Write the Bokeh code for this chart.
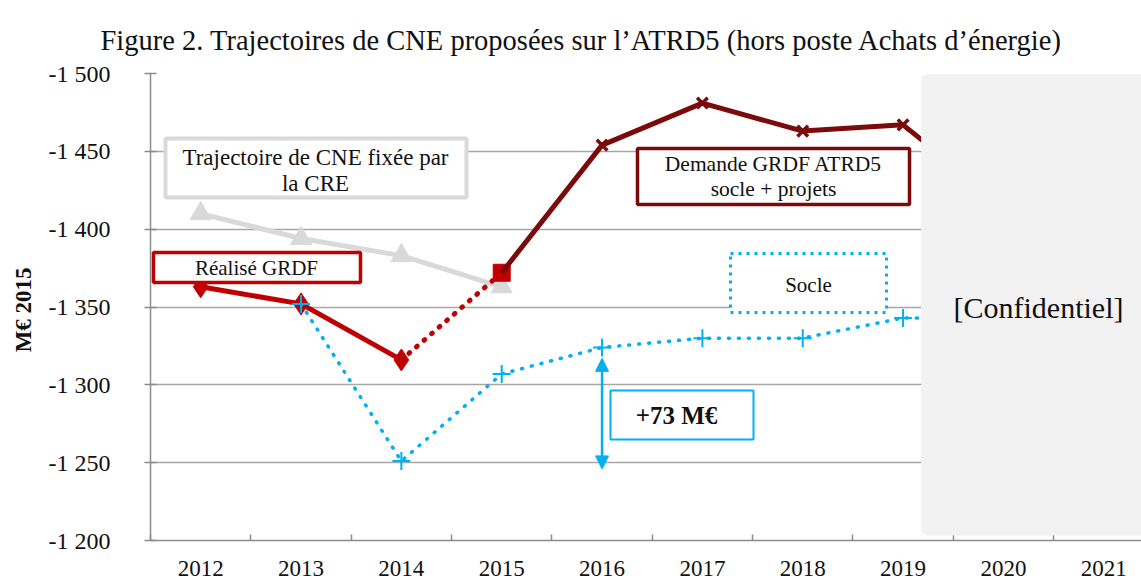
from bokeh.plotting import figure
from bokeh.models import (Range1d, FixedTicker, Label, Arrow, NormalHead,
                          BoxAnnotation)
from bokeh.embed import file_html
from bokeh.resources import INLINE

# ---- data ----
years = ["2012", "2013", "2014", "2015", "2016", "2017", "2018", "2019", "2020", "2021"]
cre_years = ["2012", "2013", "2014", "2015"]
cre_values = [-1410, -1394, -1383, -1363]
realise_years = ["2012", "2013", "2014"]
realise_values = [-1363, -1352, -1316]
estime_years = ["2014", "2015"]
estime_values = [-1316, -1372]
demande_years = ["2015", "2016", "2017", "2018", "2019", "2020"]
demande_values = [-1372, -1454, -1481, -1463, -1467, -1415]
socle_years = ["2013", "2014", "2015", "2016", "2017", "2018", "2019", "2020"]
socle_values = [-1352, -1251, -1307, -1324, -1330, -1330, -1343, -1342]
y_ticks = [-1500, -1450, -1400, -1350, -1300, -1250, -1200]
y_tick_labels = ["-1 500", "-1 450", "-1 400", "-1 350", "-1 300", "-1 250", "-1 200"]
confidential_from = "2019"
ecart_label = "+73 M€"
ecart_from, ecart_to = -1317, -1246
title_text = "Figure 2. Trajectoires de CNE proposées sur l’ATRD5 (hors poste Achats d’énergie)"

idx = {y: i for i, y in enumerate(years)}
def xs(ys):
    return [idx[y] for y in ys]

FONT = "Liberation Serif"
GRAY = "#d9d9d9"
RED = "#c00000"
DARK = "#7b0a0a"
BLUE = "#00b0f0"
INK = "#111111"

# layout helpers (pixel -> data) for annotation placement
def dx(px):
    return (px - 200.2) / 100.34
def dy(py):
    return -1500 + (py - 73) * 300 / 467

p = figure(width=1141, height=580, output_backend="svg", toolbar_location=None,
           x_range=Range1d(-0.5, 9.376), y_range=Range1d(-1200, -1500),
           min_border_left=150, min_border_right=0, min_border_top=73,
           min_border_bottom=40)
p.outline_line_color = None
p.background_fill_color = "white"

p.title.text = title_text
p.title.align = "left"
p.title.offset = -50
p.title.text_font = FONT
p.title.text_font_size = "28.5px"
p.title.text_font_style = "normal"
p.title.text_color = INK
p.title.vertical_align = "top"
p.title.standoff = 32

# axes
p.xaxis.ticker = FixedTicker(ticks=list(range(10)), minor_ticks=[i - 0.5 for i in range(11)])
p.xaxis.major_label_overrides = {i: y for i, y in enumerate(years)}
p.xaxis.major_tick_in = 0
p.xaxis.major_tick_out = 0
p.xaxis.minor_tick_in = 6
p.xaxis.minor_tick_out = 0
p.xaxis.minor_tick_line_color = "#8c8c8c"
p.xaxis.minor_tick_line_width = 1.5
p.xaxis.axis_line_color = "#8c8c8c"
p.xaxis.axis_line_width = 1.5
p.xaxis.major_label_text_font = FONT
p.xaxis.major_label_text_font_size = "23px"
p.xaxis.major_label_text_color = INK
p.xaxis.major_label_standoff = 20

p.yaxis.ticker = FixedTicker(ticks=y_ticks)
p.yaxis.major_label_overrides = {t: l for t, l in zip(y_ticks, y_tick_labels)}
p.yaxis.major_tick_in = 6
p.yaxis.major_tick_out = 6
p.yaxis.major_tick_line_color = "#8c8c8c"
p.yaxis.major_tick_line_width = 1.5
p.yaxis.minor_tick_line_color = None
p.yaxis.axis_line_color = "#8c8c8c"
p.yaxis.axis_line_width = 1.5
p.yaxis.major_label_text_font = FONT
p.yaxis.major_label_text_font_size = "24px"
p.yaxis.major_label_text_color = INK
p.yaxis.major_label_standoff = 34
p.yaxis.axis_label = "M€  2015"
p.yaxis.axis_label_text_font = FONT
p.yaxis.axis_label_text_font_size = "23px"
p.yaxis.axis_label_text_font_style = "bold"
p.yaxis.axis_label_text_color = INK
p.yaxis.axis_label_standoff = 10

p.xgrid.visible = False
p.ygrid.grid_line_color = "#a6a6a6"
p.ygrid.grid_line_width = 1.5

# series
p.line(xs(cre_years), cre_values, line_color=GRAY, line_width=5)
p.scatter(xs(cre_years), cre_values, marker="triangle", size=21,
          fill_color=GRAY, line_color=GRAY)

p.line(xs(estime_years), estime_values, line_color=RED, line_width=5,
       line_dash="1 9", line_cap="round")
p.line(xs(realise_years), realise_values, line_color=RED, line_width=5)
p.scatter(xs(realise_years), realise_values, marker="diamond", size=22,
          fill_color=RED, line_color=RED)

p.line(xs(socle_years), socle_values, line_color=BLUE, line_width=3.5,
       line_dash="1 9", line_cap="round")
p.scatter(xs(socle_years), socle_values, marker="cross", size=18,
          line_color=BLUE, line_width=2)

p.scatter(xs(demande_years[:1]), demande_values[:1], marker="square", size=17,
          fill_color=RED, line_color=RED)
p.line(xs(demande_years), demande_values, line_color=DARK, line_width=5)
p.scatter(xs(demande_years[1:]), demande_values[1:], marker="x", size=15,
          line_color=DARK, line_width=3.5)

# confidential area
p.add_layout(BoxAnnotation(left=idx[confidential_from] + 0.18, right=9.6,
                           top=-1499.4, bottom=-1203.2, fill_color="#f2f2f2",
                           fill_alpha=1, line_color=None, border_radius=6))
p.add_layout(Label(x=dx(1038), y=dy(307), text="[Confidentiel]", text_align="center",
                   text_baseline="middle", text_font=FONT, text_font_size="30px",
                   text_color=INK))

# boxes
def box(l, r, t, b, color, width, dash="solid"):
    p.add_layout(BoxAnnotation(left=dx(l), right=dx(r), top=dy(t), bottom=dy(b),
                               fill_color="white", fill_alpha=1, line_color=color,
                               line_alpha=1, line_width=width, line_dash=dash))

def lab(px, py, text, size="19px", style="normal"):
    p.add_layout(Label(x=dx(px), y=dy(py), text=text, text_align="center",
                       text_baseline="middle", text_font=FONT, text_font_size=size,
                       text_font_style=style, text_color=INK))

box(165, 466, 138, 197, GRAY, 4)
lab(315, 157, "Trajectoire de CNE fixée par", size="23px")
lab(315, 183, "la CRE", size="23px")

box(153, 360, 252, 282, RED, 3.5)
lab(256, 267, "Réalisé GRDF", size="21px")

box(637, 909, 148, 204, DARK, 3.5)
lab(773, 163, "Demande GRDF ATRD5", size="21.5px")
lab(773, 188, "socle + projets", size="21.5px")

box(730, 886, 253, 312, BLUE, 3, dash="3 5")
lab(808, 284, "Socle", size="21px")

box(610, 753, 390, 439, BLUE, 2)
lab(676, 415, ecart_label, size="25px", style="bold")

# +73 arrow
head = dict(size=13, fill_color=BLUE, line_color=BLUE)
p.add_layout(Arrow(start=NormalHead(**head), end=NormalHead(**head),
                   x_start=idx["2016"], y_start=ecart_from,
                   x_end=idx["2016"], y_end=ecart_to,
                   line_color=BLUE, line_width=2.5))

open("out.html", "w").write(file_html(p, INLINE))
